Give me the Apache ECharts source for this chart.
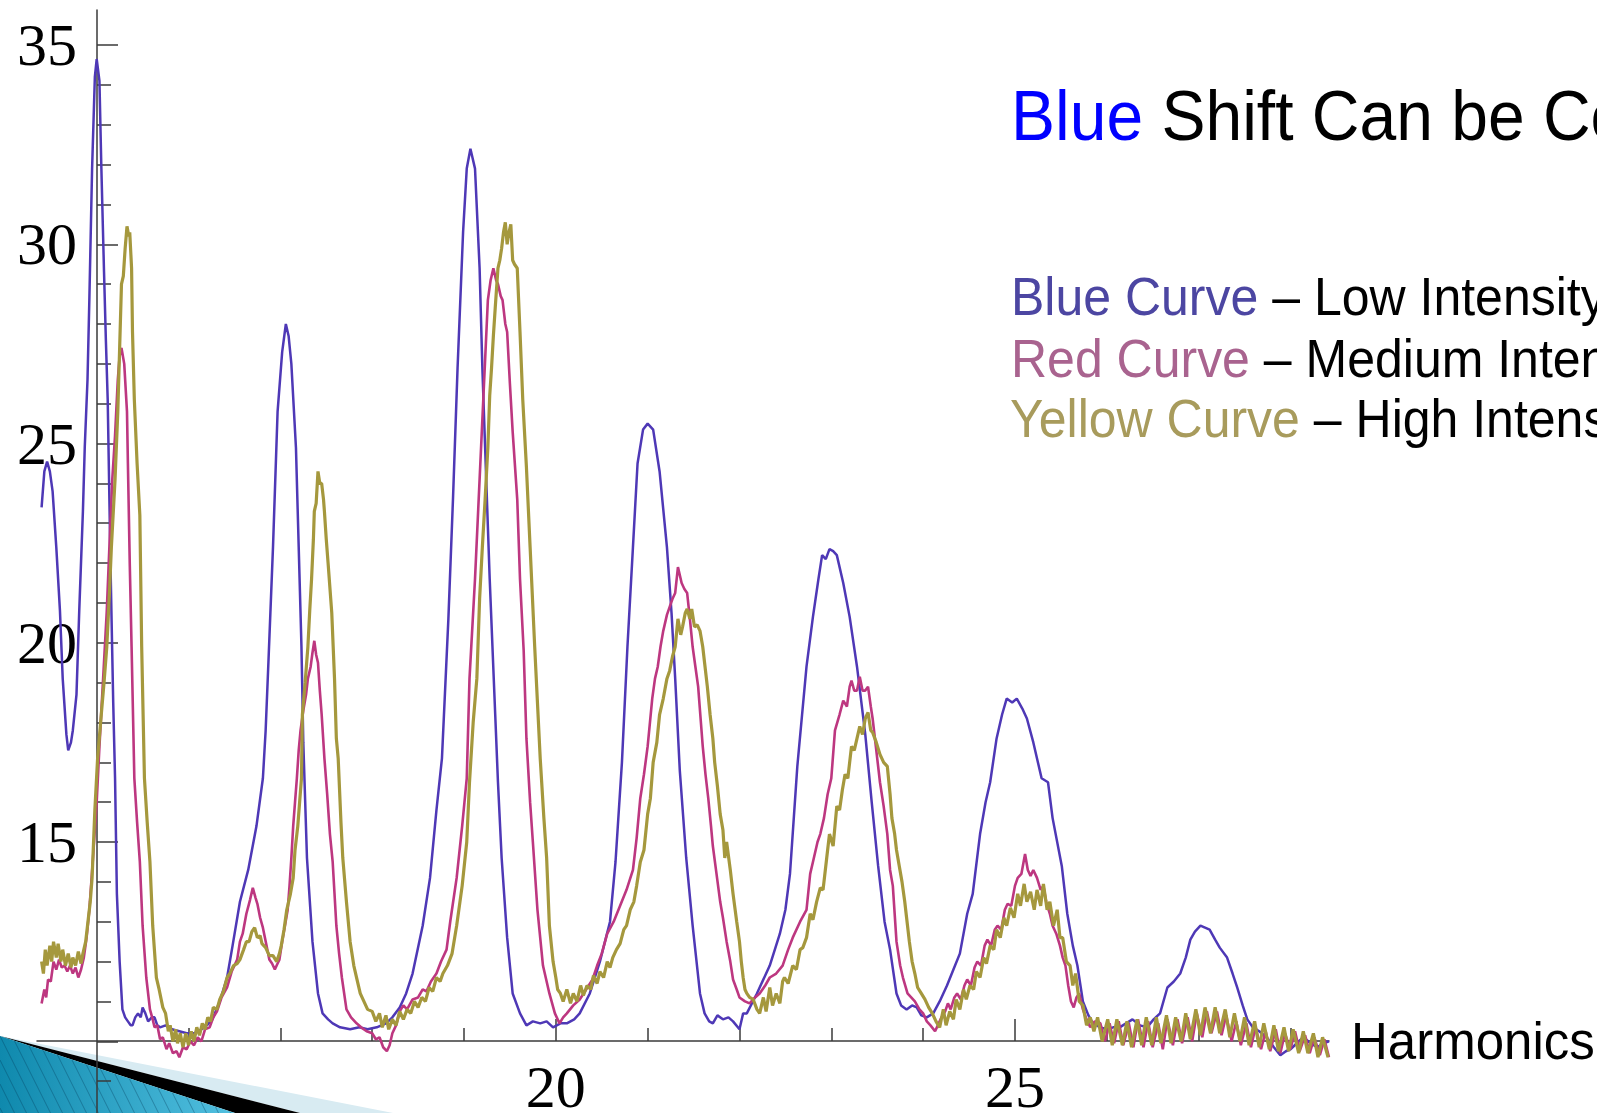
<!DOCTYPE html>
<html>
<head>
<meta charset="utf-8">
<title>Blue Shift</title>
<script src="https://cdn.jsdelivr.net/npm/echarts@6.0.0/dist/echarts.min.js"></script>
<style>
  html, body { margin: 0; padding: 0; background: #fff; }
  #chart { width: 1597px; height: 1113px; }
</style>
</head>
<body>
<div id="chart"></div>
<script>
// harmonic order vs signal
const lowIntensity = [
  [14.40,23.4],[14.43,24.3],[14.46,24.55],[14.49,24.3],[14.52,23.8],[14.56,22.4],[14.60,20.8],[14.63,19.1],[14.67,17.7],[14.69,17.3],
  [14.72,17.5],[14.74,17.8],[14.78,18.7],[14.81,20.8],[14.85,23.3],[14.87,24.9],[14.90,26.6],[14.92,28.6],[14.95,31.9],[14.98,34.2],
  [15.00,34.65],[15.03,34.1],[15.05,32.0],[15.08,29.3],[15.10,27.6],[15.12,26.1],[15.15,22.0],[15.18,18.5],[15.20,16.6],[15.22,13.7],
  [15.25,12.0],[15.28,10.8],[15.31,10.6],[15.34,10.5],[15.37,10.4],[15.39,10.4],[15.42,10.6],[15.45,10.7],[15.48,10.6],[15.50,10.85],
  [15.53,10.7],[15.56,10.5],[15.60,10.6],[15.63,10.6],[15.66,10.4],[15.69,10.35],[15.75,10.4],[15.82,10.3],[15.90,10.25],[15.98,10.2],
  [16.06,10.2],[16.14,10.3],[16.20,10.4],[16.26,10.55],[16.34,11.0],[16.42,11.6],[16.48,12.4],[16.56,13.5],[16.65,14.3],[16.74,15.4],
  [16.81,16.6],[16.84,17.8],[16.87,19.5],[16.92,22.4],[16.97,25.8],[17.02,27.3],[17.06,28.0],[17.09,27.7],[17.12,27.0],[17.17,24.9],
  [17.20,22.4],[17.23,19.9],[17.25,17.5],[17.29,14.6],[17.35,12.5],[17.41,11.2],[17.46,10.7],[17.52,10.55],[17.57,10.45],[17.65,10.35],
  [17.76,10.3],[17.86,10.35],[17.95,10.3],[18.05,10.35],[18.15,10.45],[18.22,10.6],[18.30,10.85],[18.37,11.2],[18.44,11.7],[18.55,12.9],
  [18.63,14.1],[18.70,15.8],[18.76,17.1],[18.83,20.6],[18.88,23.6],[18.93,26.9],[18.99,30.3],[19.03,31.9],[19.07,32.4],[19.12,31.9],
  [19.17,29.4],[19.20,26.9],[19.23,24.9],[19.28,21.6],[19.34,18.2],[19.37,16.5],[19.41,14.6],[19.47,12.6],[19.53,11.2],[19.61,10.7],
  [19.68,10.4],[19.75,10.5],[19.83,10.45],[19.90,10.5],[19.97,10.35],[20.05,10.45],[20.12,10.45],[20.20,10.55],[20.26,10.7],[20.37,11.2],
  [20.48,12.0],[20.59,13.0],[20.65,14.5],[20.72,17.0],[20.78,19.9],[20.84,22.4],[20.89,24.5],[20.95,25.35],[21.00,25.5],[21.06,25.35],
  [21.13,24.3],[21.21,22.4],[21.26,20.75],[21.30,19.1],[21.35,16.8],[21.42,14.6],[21.49,12.9],[21.57,11.2],[21.62,10.7],[21.67,10.5],
  [21.71,10.45],[21.76,10.65],[21.82,10.55],[21.88,10.6],[21.93,10.5],[22.00,10.3],[22.04,10.7],[22.08,10.7],[22.19,11.2],[22.33,11.9],
  [22.44,12.7],[22.50,13.3],[22.55,14.2],[22.63,16.9],[22.73,19.4],[22.80,20.65],[22.86,21.6],[22.90,22.2],[22.94,22.1],[22.98,22.35],
  [23.02,22.3],[23.06,22.2],[23.13,21.5],[23.20,20.65],[23.28,19.4],[23.37,17.7],[23.44,16.0],[23.51,14.4],[23.58,13.0],[23.64,12.3],
  [23.71,11.2],[23.76,10.9],[23.82,10.8],[23.88,10.9],[23.93,10.85],[23.98,10.65],[24.04,10.6],[24.11,10.7],[24.18,11.0],[24.26,11.4],
  [24.33,11.8],[24.40,12.2],[24.48,13.2],[24.54,13.7],[24.62,15.2],[24.68,16.0],[24.73,16.5],[24.80,17.6],[24.86,18.2],[24.91,18.6],
  [24.97,18.5],[25.02,18.6],[25.08,18.35],[25.13,18.1],[25.20,17.5],[25.29,16.6],[25.36,16.5],[25.41,15.6],[25.51,14.4],[25.57,13.2],
  [25.63,12.4],[25.68,11.9],[25.74,11.0],[25.80,10.65],[25.85,10.45],[25.93,10.35],[26.00,10.3],[26.07,10.35],[26.14,10.35],[26.21,10.45],
  [26.28,10.55],[26.36,10.4],[26.44,10.35],[26.51,10.55],[26.58,10.7],[26.66,11.35],[26.73,11.5],[26.80,11.7],[26.86,12.1],[26.91,12.55],
  [26.96,12.75],[27.02,12.9],[27.07,12.85],[27.12,12.8],[27.18,12.55],[27.23,12.35],[27.31,12.1],[27.37,11.7],[27.42,11.35],[27.48,10.9],
  [27.53,10.55],[27.59,10.35],[27.66,10.25],[27.74,10.1],[27.82,9.85],[27.89,9.65],[27.95,9.75],[28.00,9.8],[28.07,9.95],[28.14,10.1],
  [28.22,9.95],[28.29,9.85],[28.36,9.95],[28.42,10.0]
];

const mediumIntensity = [
  [14.40,10.95],[14.43,11.3],[14.45,11.1],[14.47,11.55],[14.50,11.5],[14.53,12.0],[14.56,11.8],[14.59,12.05],[14.62,11.85],[14.65,11.9],
  [14.68,11.75],[14.71,11.9],[14.74,11.7],[14.77,11.85],[14.80,11.6],[14.83,11.8],[14.86,12.1],[14.89,12.6],[14.92,13.3],[14.96,14.6],
  [15.00,16.0],[15.03,17.4],[15.07,19.1],[15.11,20.8],[15.14,22.5],[15.17,24.1],[15.20,25.2],[15.23,26.6],[15.25,27.2],[15.27,27.4],
  [15.30,27.0],[15.33,25.8],[15.34,24.5],[15.36,22.0],[15.38,19.9],[15.41,16.6],[15.44,15.5],[15.47,14.5],[15.50,12.9],[15.54,11.6],
  [15.58,10.8],[15.61,10.55],[15.63,10.35],[15.66,10.4],[15.69,10.05],[15.72,10.1],[15.76,9.8],[15.79,9.95],[15.83,9.7],[15.87,9.75],
  [15.90,9.6],[15.94,9.85],[15.98,9.8],[16.02,10.0],[16.06,9.9],[16.10,10.1],[16.14,10.0],[16.18,10.3],[16.23,10.35],[16.27,10.6],
  [16.31,10.75],[16.36,11.1],[16.42,11.35],[16.47,11.75],[16.53,12.05],[16.56,12.5],[16.59,12.7],[16.63,13.2],[16.67,13.55],[16.70,13.85],
  [16.73,13.6],[16.75,13.45],[16.78,13.1],[16.81,12.85],[16.85,12.4],[16.88,12.05],[16.91,11.95],[16.94,11.8],[16.97,11.95],[16.99,12.05],
  [17.02,12.5],[17.05,12.9],[17.08,13.3],[17.10,13.9],[17.12,14.6],[17.14,15.4],[17.16,16.0],[17.18,16.6],[17.20,17.3],[17.22,17.8],
  [17.25,18.3],[17.28,18.7],[17.30,19.1],[17.33,19.4],[17.35,19.75],[17.37,20.05],[17.39,19.7],[17.41,19.5],[17.43,18.8],[17.45,18.2],
  [17.48,17.1],[17.51,16.2],[17.54,15.2],[17.57,14.5],[17.61,12.9],[17.64,12.2],[17.67,11.6],[17.72,10.8],[17.77,10.6],[17.83,10.45],
  [17.88,10.35],[17.94,10.25],[18.00,10.2],[18.04,10.05],[18.08,10.1],[18.12,9.85],[18.16,9.75],[18.19,9.9],[18.22,10.2],[18.26,10.4],
  [18.30,10.75],[18.34,10.9],[18.38,10.8],[18.44,11.05],[18.50,11.1],[18.55,11.3],[18.59,11.25],[18.64,11.5],[18.70,11.7],[18.75,12.0],
  [18.81,12.3],[18.85,13.0],[18.92,14.1],[18.98,15.4],[19.03,16.6],[19.06,19.1],[19.12,21.6],[19.17,24.1],[19.22,26.6],[19.26,28.6],
  [19.29,29.1],[19.32,29.4],[19.35,29.1],[19.37,29.0],[19.40,28.7],[19.42,28.6],[19.45,28.0],[19.47,27.8],[19.50,26.5],[19.53,25.3],
  [19.58,23.6],[19.61,21.6],[19.65,19.8],[19.68,17.6],[19.72,16.0],[19.75,15.0],[19.80,13.3],[19.86,11.9],[19.93,11.2],[19.99,10.7],
  [20.04,10.45],[20.08,10.6],[20.12,10.7],[20.19,10.9],[20.26,11.05],[20.33,11.3],[20.40,11.55],[20.45,11.9],[20.50,12.2],[20.56,12.7],
  [20.63,13.0],[20.70,13.4],[20.77,13.8],[20.84,14.3],[20.88,15.1],[20.92,16.1],[20.96,16.7],[21.00,17.4],[21.05,18.6],[21.08,19.1],
  [21.11,19.4],[21.14,19.9],[21.17,20.3],[21.21,20.7],[21.24,20.9],[21.27,21.1],[21.30,21.25],[21.33,21.9],[21.35,21.7],[21.37,21.5],
  [21.40,21.35],[21.43,21.25],[21.46,20.6],[21.49,19.9],[21.52,19.4],[21.55,18.9],[21.58,18.0],[21.60,17.4],[21.63,16.7],[21.66,16.1],
  [21.69,15.4],[21.71,14.9],[21.75,14.2],[21.79,13.5],[21.82,13.1],[21.86,12.5],[21.90,12.0],[21.93,11.55],[21.97,11.3],[22.00,11.1],
  [22.06,11.0],[22.11,10.95],[22.17,11.1],[22.22,11.2],[22.28,11.4],[22.33,11.6],[22.40,11.7],[22.47,11.9],[22.53,12.3],[22.58,12.6],
  [22.66,13.0],[22.73,13.3],[22.77,14.2],[22.80,14.5],[22.85,15.0],[22.88,15.2],[22.92,15.6],[22.96,16.2],[23.00,16.6],[23.04,17.8],
  [23.09,18.2],[23.13,18.55],[23.17,18.4],[23.20,18.9],[23.22,19.05],[23.25,18.8],[23.28,18.8],[23.31,19.15],[23.34,18.8],[23.37,18.8],
  [23.40,18.9],[23.43,18.4],[23.45,18.1],[23.49,17.3],[23.53,16.5],[23.57,15.9],[23.61,15.2],[23.64,14.3],[23.67,13.9],[23.71,12.5],
  [23.75,11.9],[23.78,11.6],[23.83,11.2],[23.87,11.1],[23.91,11.0],[23.96,10.8],[24.00,10.7],[24.04,10.5],[24.08,10.4],[24.13,10.25],
  [24.17,10.45],[24.20,10.6],[24.24,10.75],[24.27,10.95],[24.30,10.8],[24.34,11.1],[24.37,11.2],[24.41,11.05],[24.45,11.4],[24.48,11.55],
  [24.52,11.4],[24.56,11.85],[24.59,12.0],[24.63,11.9],[24.67,12.4],[24.70,12.55],[24.74,12.4],[24.78,12.8],[24.81,12.9],[24.85,12.8],
  [24.89,13.3],[24.92,13.45],[24.96,13.4],[25.00,13.9],[25.03,14.1],[25.07,14.2],[25.11,14.7],[25.14,14.3],[25.17,14.15],[25.20,14.3],
  [25.24,14.1],[25.28,13.8],[25.31,13.9],[25.34,13.5],[25.38,13.2],[25.41,12.9],[25.45,12.7],[25.49,12.4],[25.52,12.1],[25.55,11.9],
  [25.58,11.4],[25.61,11.0],[25.64,10.85],[25.67,11.1],[25.70,11.2],[25.74,10.8],[25.78,10.55],[25.82,10.35],[25.87,10.5],[25.93,10.45],
  [25.98,10.0],[26.03,10.45],[26.08,9.95],[26.13,10.5],[26.18,9.9],[26.24,10.45],[26.29,9.85],[26.34,10.55],[26.40,9.85],[26.45,10.5],
  [26.50,9.85],[26.56,10.45],[26.61,9.8],[26.66,10.55],[26.72,9.9],[26.77,10.55],[26.82,9.95],[26.88,10.6],[26.93,10.0],[26.98,10.7],
  [27.04,10.1],[27.09,10.75],[27.14,10.2],[27.20,10.75],[27.25,10.15],[27.30,10.65],[27.36,10.0],[27.41,10.5],[27.46,9.9],[27.52,10.45],
  [27.57,9.85],[27.62,10.35],[27.68,9.8],[27.73,10.25],[27.78,9.75],[27.84,10.3],[27.89,9.7],[27.94,10.2],[28.00,9.8],[28.05,10.25],
  [28.10,9.75],[28.16,10.15],[28.21,9.7],[28.26,10.1],[28.32,9.65],[28.37,10.05],[28.42,9.6]
];

const highIntensity = [
  [14.40,12.0],[14.42,11.7],[14.44,12.3],[14.46,11.9],[14.49,12.4],[14.51,12.0],[14.53,12.5],[14.56,12.1],[14.58,12.45],[14.61,12.0],
  [14.63,12.3],[14.66,11.9],[14.69,12.2],[14.72,11.85],[14.74,12.1],[14.77,11.9],[14.80,12.25],[14.83,11.95],[14.85,12.2],[14.88,12.5],
  [14.90,12.9],[14.93,13.5],[14.95,14.1],[14.98,15.8],[15.01,17.1],[15.05,18.2],[15.08,19.0],[15.11,19.9],[15.14,21.3],[15.16,22.4],
  [15.20,24.1],[15.23,25.8],[15.25,27.4],[15.27,29.0],[15.29,29.2],[15.31,29.9],[15.33,30.45],[15.35,30.2],[15.36,30.3],[15.38,29.4],
  [15.39,27.8],[15.41,26.1],[15.44,24.5],[15.47,23.2],[15.49,19.9],[15.52,16.6],[15.55,15.5],[15.58,14.5],[15.61,12.9],[15.65,11.6],
  [15.68,11.3],[15.72,10.85],[15.75,10.7],[15.78,10.25],[15.80,10.4],[15.83,10.0],[15.86,10.3],[15.88,9.95],[15.91,10.2],[15.94,9.85],
  [15.97,10.2],[16.00,9.9],[16.03,10.25],[16.06,10.0],[16.09,10.35],[16.12,10.15],[16.15,10.45],[16.18,10.3],[16.21,10.6],[16.24,10.5],
  [16.27,10.85],[16.31,10.8],[16.34,11.05],[16.38,11.25],[16.42,11.6],[16.45,11.7],[16.49,11.9],[16.53,11.95],[16.56,12.05],[16.60,12.3],
  [16.63,12.5],[16.66,12.5],[16.69,12.75],[16.72,12.85],[16.75,12.6],[16.78,12.65],[16.80,12.45],[16.84,12.35],[16.88,12.15],[16.92,12.15],
  [16.96,12.0],[16.99,12.2],[17.01,12.4],[17.04,12.8],[17.07,13.3],[17.11,13.7],[17.14,14.1],[17.16,14.8],[17.19,15.4],[17.21,16.0],
  [17.23,16.6],[17.24,18.2],[17.27,19.0],[17.30,19.9],[17.32,20.8],[17.34,21.6],[17.36,22.6],[17.37,23.3],[17.39,23.5],[17.41,24.3],
  [17.43,24.0],[17.45,24.0],[17.47,23.6],[17.48,23.3],[17.50,22.6],[17.52,22.0],[17.56,20.75],[17.59,19.1],[17.61,17.6],[17.63,17.1],
  [17.66,15.5],[17.68,14.6],[17.72,13.5],[17.76,12.5],[17.80,11.9],[17.83,11.6],[17.87,11.2],[17.90,11.05],[17.95,10.8],[18.00,10.75],
  [18.04,10.5],[18.08,10.7],[18.11,10.35],[18.15,10.65],[18.18,10.3],[18.22,10.55],[18.26,10.4],[18.30,10.75],[18.34,10.55],[18.38,10.8],
  [18.42,10.7],[18.46,11.0],[18.50,10.85],[18.54,11.1],[18.58,11.0],[18.62,11.35],[18.66,11.25],[18.70,11.6],[18.74,11.5],[18.77,11.7],
  [18.82,11.9],[18.87,12.2],[18.92,12.9],[18.98,13.9],[19.03,15.0],[19.06,16.5],[19.10,18.0],[19.14,19.1],[19.17,21.1],[19.20,22.4],
  [19.23,23.6],[19.26,24.9],[19.28,26.2],[19.30,26.9],[19.32,27.7],[19.34,28.4],[19.37,29.4],[19.39,29.6],[19.41,29.9],[19.43,30.3],
  [19.45,30.55],[19.47,30.0],[19.49,30.3],[19.51,30.5],[19.53,29.6],[19.55,29.5],[19.58,29.4],[19.61,27.8],[19.64,26.1],[19.68,24.4],
  [19.72,22.4],[19.77,19.9],[19.80,18.5],[19.83,17.1],[19.87,15.6],[19.90,14.6],[19.93,12.9],[19.97,12.0],[20.00,11.6],[20.02,11.3],
  [20.05,11.2],[20.08,11.0],[20.12,11.3],[20.16,10.95],[20.19,11.2],[20.23,11.0],[20.27,11.4],[20.30,11.15],[20.34,11.4],[20.38,11.3],
  [20.41,11.65],[20.45,11.45],[20.48,11.75],[20.52,11.6],[20.56,12.0],[20.59,11.85],[20.62,12.1],[20.66,12.3],[20.70,12.45],[20.74,12.8],
  [20.77,12.9],[20.81,13.3],[20.85,13.5],[20.88,13.9],[20.92,14.5],[20.96,14.8],[21.00,15.7],[21.03,16.1],[21.06,17.0],[21.10,17.5],
  [21.13,18.2],[21.17,18.6],[21.21,19.1],[21.24,19.3],[21.27,19.65],[21.30,19.9],[21.33,20.6],[21.36,20.2],[21.38,20.4],[21.41,20.75],
  [21.43,20.85],[21.46,20.6],[21.48,20.85],[21.51,20.4],[21.54,20.45],[21.57,20.3],[21.60,19.9],[21.62,19.5],[21.65,18.9],[21.68,18.2],
  [21.71,17.6],[21.73,17.0],[21.76,16.4],[21.79,15.7],[21.82,15.3],[21.84,14.6],[21.86,15.0],[21.90,14.3],[21.93,13.7],[21.97,13.0],
  [22.00,12.5],[22.02,12.0],[22.04,11.6],[22.06,11.3],[22.08,11.2],[22.11,11.1],[22.15,11.05],[22.19,10.8],[22.22,10.7],[22.26,11.1],
  [22.29,10.75],[22.33,11.35],[22.36,10.9],[22.40,11.2],[22.44,10.95],[22.47,11.5],[22.49,11.6],[22.53,11.45],[22.58,11.9],[22.62,11.8],
  [22.66,12.3],[22.69,12.35],[22.73,12.6],[22.77,13.2],[22.80,13.05],[22.84,13.5],[22.88,13.85],[22.91,13.8],[22.95,14.6],[22.98,15.2],
  [23.02,14.9],[23.06,15.9],[23.09,15.8],[23.12,16.3],[23.15,16.7],[23.18,16.6],[23.22,17.4],[23.25,17.3],[23.28,17.6],[23.31,17.9],
  [23.34,17.7],[23.37,18.1],[23.40,18.25],[23.43,17.8],[23.45,17.75],[23.49,17.5],[23.53,17.2],[23.57,17.0],[23.61,16.9],[23.64,16.2],
  [23.66,15.6],[23.69,15.2],[23.71,14.8],[23.74,14.4],[23.77,14.0],[23.80,13.5],[23.82,13.1],[23.85,12.5],[23.88,12.0],[23.91,11.7],
  [23.94,11.35],[23.98,11.2],[24.02,11.05],[24.06,10.85],[24.10,10.7],[24.14,10.5],[24.18,10.35],[24.22,10.8],[24.25,10.4],[24.29,10.75],
  [24.33,10.55],[24.36,11.05],[24.40,10.8],[24.44,11.3],[24.47,11.05],[24.51,11.4],[24.55,11.3],[24.58,11.75],[24.62,11.6],[24.66,12.1],
  [24.69,11.95],[24.73,12.4],[24.77,12.3],[24.80,12.8],[24.84,12.6],[24.88,13.1],[24.91,12.9],[24.95,13.35],[24.99,13.1],[25.03,13.7],
  [25.06,13.4],[25.10,13.95],[25.13,13.5],[25.17,13.75],[25.21,13.3],[25.24,13.8],[25.28,13.4],[25.31,13.95],[25.35,13.3],[25.38,13.5],
  [25.42,12.9],[25.46,13.3],[25.49,12.6],[25.52,12.6],[25.56,12.0],[25.60,11.9],[25.63,11.4],[25.66,11.7],[25.70,11.0],[25.74,10.9],
  [25.78,10.4],[25.82,10.6],[25.86,10.25],[25.90,10.6],[25.95,10.0],[26.01,10.55],[26.06,9.9],[26.11,10.55],[26.17,9.9],[26.22,10.5],
  [26.27,9.85],[26.33,10.55],[26.38,9.9],[26.43,10.6],[26.49,9.9],[26.54,10.6],[26.59,9.95],[26.65,10.65],[26.70,9.95],[26.75,10.6],
  [26.81,10.0],[26.86,10.7],[26.91,10.05],[26.97,10.8],[27.02,10.15],[27.07,10.85],[27.13,10.2],[27.18,10.85],[27.23,10.2],[27.29,10.8],
  [27.34,10.1],[27.39,10.7],[27.45,10.0],[27.50,10.6],[27.55,9.9],[27.61,10.5],[27.66,9.85],[27.71,10.45],[27.77,9.8],[27.82,10.4],
  [27.87,9.75],[27.93,10.35],[27.98,9.75],[28.03,10.3],[28.09,9.7],[28.14,10.25],[28.19,9.7],[28.25,10.2],[28.30,9.6],[28.35,10.1],
  [28.41,9.6]
];

const xMajorTicks = [20, 25];
const xMinorTicks = [16, 17, 18, 19, 21, 22, 23, 24, 26, 27, 28];
const yMajorTicks = [10, 15, 20, 25, 30, 35];
const yMinorTicks = [9, 11, 12, 13, 14, 16, 17, 18, 19, 21, 22, 23, 24, 26, 27, 28, 29, 31, 32, 33, 34];
const yLabels = [15, 20, 25, 30, 35];

const xMin = 14.35, xMax = 28.42;
const yMin = 8.2, yMax = 35.88;

const axisColor = '#3a3a3a';
const serif = "'Liberation Serif', 'Times New Roman', serif";
const sans = "'Liberation Sans', Arial, sans-serif";

const chart = echarts.init(document.getElementById('chart'), null, { renderer: 'svg' });

function xAxisOf(ticks, len, withLine) {
  return {
    type: 'value',
    position: 'bottom',
    min: xMin,
    max: xMax,
    offset: -72,
    name: withLine ? 'Harmonics' : '',
    nameLocation: 'end',
    nameGap: 22,
    nameTextStyle: { fontFamily: sans, fontSize: 51, color: '#000', verticalAlign: 'middle', align: 'left' },
    axisLine: { show: withLine, onZero: false, lineStyle: { color: axisColor, width: 1.5 } },
    axisTick: { show: true, inside: true, length: len, customValues: ticks, lineStyle: { color: axisColor, width: 1.5 } },
    axisLabel: withLine
      ? { show: true, customValues: xMajorTicks, margin: 23, lineHeight: 46, fontFamily: serif, fontSize: 60, color: '#000' }
      : { show: false },
    splitLine: { show: false }
  };
}

function yAxisOf(ticks, len, withLine) {
  return {
    type: 'value',
    position: 'left',
    min: yMin,
    max: yMax,
    offset: -60,
    axisLine: { show: withLine, onZero: false, lineStyle: { color: axisColor, width: 1.5 } },
    axisTick: { show: true, inside: true, length: len, customValues: ticks, lineStyle: { color: axisColor, width: 1.5 } },
    axisLabel: withLine
      ? { show: true, customValues: yLabels, margin: 20, padding: [0, 0, 8, 0], fontFamily: serif, fontSize: 60, color: '#000' }
      : { show: false },
    splitLine: { show: false }
  };
}

function curve(name, data, color, width) {
  return {
    name: name,
    type: 'line',
    data: data,
    xAxisIndex: 0,
    yAxisIndex: 0,
    showSymbol: false,
    symbol: 'none',
    smooth: false,
    lineStyle: { color: color, width: width },
    itemStyle: { color: color },
    z: 3
  };
}

// hatch strokes over the teal corner shape (slope 2, clipped to the triangle)
const hatch = [];
for (let c = -36; c <= 196; c += 12) {
  const x0 = c < 0 ? 0 : c * 2 / 1.6723;
  const y0 = c < 0 ? 1036 - 2 * c : 1036 + 2 * (x0 - c);
  hatch.push({
    type: 'line', z: -7, silent: true,
    shape: { x1: x0, y1: y0, x2: c + 38.5, y2: 1113 },
    style: { stroke: 'rgba(0,55,85,0.35)', lineWidth: 1 }
  });
}

chart.setOption({
  animation: false,
  backgroundColor: '#fff',
  grid: { left: 37, right: 268, top: 10, bottom: 0, containLabel: false, outerBoundsMode: 'none' },
  xAxis: [xAxisOf(xMajorTicks, 22, true), xAxisOf(xMinorTicks, 13, false)],
  yAxis: [yAxisOf(yMajorTicks, 21, true), yAxisOf(yMinorTicks, 14, false)],
  series: [
    curve('Blue Curve', lowIntensity, '#4e38b6', 2.5),
    curve('Red Curve', mediumIntensity, '#bd3780', 2.6),
    curve('Yellow Curve', highIntensity, '#a5983d', 3.2)
  ],
  graphic: [
    // slide decoration, bottom left
    { type: 'polygon', z: -10, shape: { points: [[0, 1036], [393, 1113], [300, 1113]] }, style: { fill: '#d8ebf2' } },
    { type: 'polygon', z: -9, shape: { points: [[0, 1036], [300, 1113], [235, 1113]] }, style: { fill: '#000' } },
    {
      type: 'polygon', z: -8, shape: { points: [[0, 1036], [235, 1113], [0, 1113]] },
      style: { fill: { type: 'linear', x: 0, y: 0, x2: 1, y2: 0, colorStops: [{ offset: 0, color: '#0f89ad' }, { offset: 1, color: '#52c0e0' }] } }
    }
  ].concat(hatch, [
    {
      type: 'text', x: 1011, y: 115, scaleY: 1.06,
      style: {
        text: '{b|Blue} Shift Can be Controlled',
        font: '66px ' + sans, fill: '#000', verticalAlign: 'middle',
        rich: { b: { fill: '#0000ff', font: '66px ' + sans } }
      }
    },
    {
      type: 'text', x: 1011, y: 296, scaleY: 1.07,
      style: { text: '{c|Blue Curve} – Low Intensity', font: '50px ' + sans, fill: '#000', verticalAlign: 'middle',
        rich: { c: { fill: '#4c46a2', font: '50px ' + sans } } }
    },
    {
      type: 'text', x: 1011, y: 358, scaleY: 1.07,
      style: { text: '{c|Red Curve} – Medium Intensity', font: '50px ' + sans, fill: '#000', verticalAlign: 'middle',
        rich: { c: { fill: '#a9638f', font: '50px ' + sans } } }
    },
    {
      type: 'text', x: 1010, y: 418, scaleY: 1.07,
      style: { text: '{c|Yellow Curve} – High Intensity', font: '50px ' + sans, fill: '#000', verticalAlign: 'middle',
        rich: { c: { fill: '#a89b5c', font: '50px ' + sans } } }
    }
  ])
});
</script>
</body>
</html>
